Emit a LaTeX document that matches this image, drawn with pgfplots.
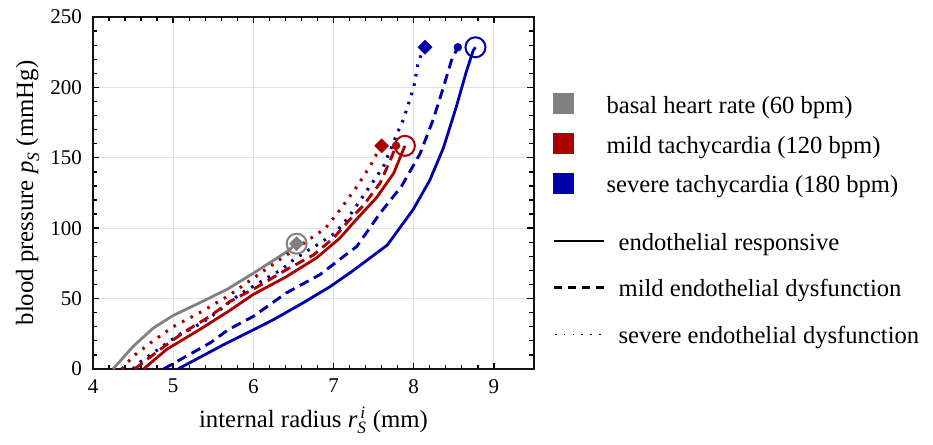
\documentclass[border=0pt]{standalone}
\usepackage{fontspec}
\setmainfont{Liberation Serif}
\usepackage{amsmath}
\usepackage{pgfplots}
\pgfplotsset{compat=1.18}
\definecolor{cgray}{RGB}{128,128,128}
\definecolor{cred}{RGB}{170,0,0}
\definecolor{cblue}{RGB}{0,0,170}
\definecolor{gridc}{RGB}{226,226,226}
\definecolor{framec}{RGB}{20,20,20}
\pgfplotsset{
  solidl/.style={line width=2.8pt},
  dashl/.style={line width=2.9pt, dash pattern=on 10pt off 6pt},
  dotl/.style={line width=3.1pt, dash pattern=on 2.6pt off 7pt},
}
\begin{document}
\begin{tikzpicture}
\useasboundingbox (-93pt,-75pt) rectangle (840pt,369pt);
\begin{axis}[
  at={(0pt,0pt)}, anchor=south west,
  scale only axis, width=441pt, height=352pt,
  xmin=4, xmax=9.5, ymin=0, ymax=250,
  xtick={4,5,...,9}, ytick={0,50,...,250},
  minor x tick num=4, minor y tick num=4,
  xtick align=inside, ytick align=inside, xtick pos=both, ytick pos=both,
  major tick length=6.5pt, minor tick length=4.5pt,
  every major tick/.append style={draw=black, line width=1.4pt},
  every minor tick/.append style={draw=black, line width=1.3pt},
  axis line style={draw=framec, line width=1.7pt},
  xmajorgrids, ymajorgrids, major grid style={draw=gridc, line width=0.9pt},
  /pgf/number format/assume math mode=true,
  ticklabel style={font=\fontsize{21}{24}\selectfont, inner sep=0pt},
  xticklabel style={yshift=-10pt},
  yticklabel style={xshift=-11pt},
  xlabel={internal radius $\textit{r}_{\textit{S}}^{\,\textit{i}}$ (mm)},
  ylabel={blood pressure $\textit{p}_{\textit{S}}$ (mmHg)},
  label style={font=\fontsize{24.8}{28}\selectfont},
  xlabel style={at={(axis description cs:0.5,-0.165)}, anchor=base},
  ylabel style={at={(axis description cs:-0.136,0.5)}, anchor=base, rotate=0},
  legend style={at={(axis description cs:1,1)}, anchor=north west,
    xshift=19pt, yshift=-75.7pt, draw=none, fill=none, inner sep=0pt,
    row sep=14.7pt,
    cells={anchor=base west},
    nodes={inner sep=0pt, text height=17pt, text depth=5pt, font=\fontsize{24.6}{28}\selectfont},
    /tikz/every odd column/.style={column sep=33pt}},
]
% legend (group 1)
\addlegendimage{legend image code/.code={\fill[cgray] (0pt,0pt) rectangle (20pt,20pt);}}
\addlegendentry{basal heart rate (60 bpm)}
\addlegendimage{legend image code/.code={\fill[cred] (0pt,0pt) rectangle (20pt,20pt);}}
\addlegendentry{mild tachycardia (120 bpm)}
\addlegendimage{legend image code/.code={\fill[cblue] (0pt,0pt) rectangle (20pt,20pt);}}
\addlegendentry{severe tachycardia (180 bpm)}

% basal (gray)
\addplot[cgray, solidl, forget plot] coordinates {
(4.25,0) (4.5,16) (4.75,29) (5.0,38) (5.33,47) (5.67,56.5) (6.0,68) (6.41,83) (6.54,89)};

% severe tachycardia (blue)
\addplot[cblue, solidl, forget plot] coordinates {
(5.06,0) (5.62,17) (6.25,35) (6.62,47) (6.96,58.6) (7.23,69.3) (7.67,88) (7.99,113) (8.2,134) (8.37,157) (8.53,186) (8.65,210) (8.74,226) (8.77,228.5)};
\addplot[cblue, dashl, forget plot] coordinates {
(4.88,0) (5.13,8) (5.46,18.5) (5.69,28) (6.0,37.4) (6.41,54) (6.83,67) (7.18,82.3) (7.29,87) (7.58,110.6) (7.85,130) (8.08,153) (8.24,176.7) (8.37,200) (8.47,219) (8.55,228.5)};
\addplot[cblue, dotl, forget plot] coordinates {
(4.5,0) (4.59,5) (4.84,15) (4.96,20) (5.11,25.6) (5.21,28) (5.36,33) (5.54,40) (5.69,47) (5.83,53) (6.12,63) (6.35,70.5) (6.5,77.5) (6.66,83.4) (6.83,89.4) (7.02,96.5) (7.19,108) (7.45,129.5) (7.62,143.6) (7.72,157) (7.79,167) (7.87,177) (8.0,200) (8.06,219) (8.14,228.5)};

% mild tachycardia (red)
\addplot[cred, solidl, forget plot] coordinates {
(4.63,0) (4.92,14) (5.33,28) (5.69,41) (6.0,53) (6.41,65.5) (6.79,79) (7.08,93) (7.25,104) (7.54,122) (7.75,139) (7.85,153) (7.89,158.5)};
\addplot[cred, dashl, forget plot] coordinates {
(4.52,0) (4.84,14) (5.13,26) (5.46,37.5) (5.71,48) (6.04,58) (6.41,70.5) (6.75,81) (7.0,93) (7.2,106) (7.37,116) (7.58,132) (7.72,150) (7.78,158.5)};
\addplot[cred, dotl, forget plot] coordinates {
(4.36,0) (4.5,9) (4.75,20) (5.0,30) (5.33,40) (5.69,52) (6.21,73) (6.62,89) (6.9,100) (7.08,113) (7.29,129.5) (7.45,143.6) (7.56,155) (7.6,158.5)};

% end markers
\addplot[only marks, mark=o, mark size=10pt, mark options={draw=cgray, line width=2pt, solid}, forget plot] coordinates {(6.54,89)};
\addplot[only marks, mark=square*, mark size=5pt, mark options={draw=cgray, fill=cgray, rotate=45, solid}, forget plot] coordinates {(6.54,89)};
\addplot[only marks, mark=o, mark size=10pt, mark options={draw=cred, line width=2pt, solid}, forget plot] coordinates {(7.89,158.5)};
\addplot[only marks, mark=*, mark size=4pt, mark options={draw=cred, fill=cred, solid}, forget plot] coordinates {(7.78,158.5)};
\addplot[only marks, mark=square*, mark size=5pt, mark options={draw=cred, fill=cred, rotate=45, solid}, forget plot] coordinates {(7.6,158.5)};
\addplot[only marks, mark=o, mark size=10pt, mark options={draw=cblue, line width=2pt, solid}, forget plot] coordinates {(8.77,228.5)};
\addplot[only marks, mark=*, mark size=4pt, mark options={draw=cblue, fill=cblue, solid}, forget plot] coordinates {(8.55,228.5)};
\addplot[only marks, mark=square*, mark size=5pt, mark options={draw=cblue, fill=cblue, rotate=45, solid}, forget plot] coordinates {(8.14,228.5)};
\end{axis}

\begin{axis}[
  at={(0pt,0pt)}, anchor=south west,
  scale only axis, width=441pt, height=352pt,
  xmin=0, xmax=1, ymin=0, ymax=1, hide axis,
  legend style={at={(axis description cs:1,1)}, anchor=north west,
    xshift=19pt, yshift=-216pt, draw=none, fill=none, inner sep=0pt,
    row sep=24.7pt,
    cells={anchor=base west},
    nodes={inner sep=0pt, text height=17pt, text depth=5pt, font=\fontsize{24.6}{28}\selectfont},
    /tikz/every odd column/.style={column sep=13pt}},
]
\addlegendimage{legend image code/.code={\draw[black, line width=2.4pt] (0pt,9.3pt) -- (50pt,9.3pt);}}
\addlegendentry{endothelial responsive}
\addlegendimage{legend image code/.code={\draw[black, line width=2.4pt, dash pattern=on 8pt off 6pt] (0pt,9.3pt) -- (50pt,9.3pt);}}
\addlegendentry{mild endothelial dysfunction}
\addlegendimage{legend image code/.code={\draw[black, line width=1.6pt, dash pattern=on 1.6pt off 7.2pt] (0.5pt,9.3pt) -- (50pt,9.3pt);}}
\addlegendentry{severe endothelial dysfunction}
\end{axis}
\end{tikzpicture}
\end{document}
